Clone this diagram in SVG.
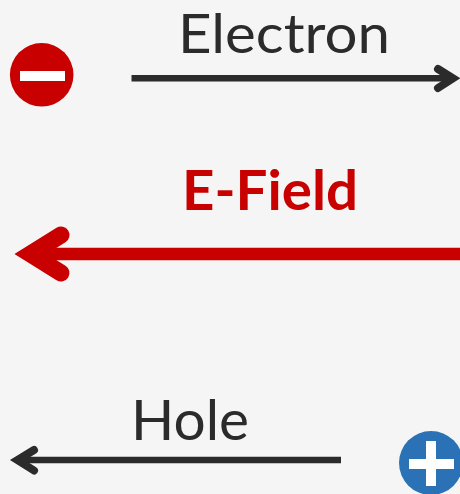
<svg xmlns="http://www.w3.org/2000/svg" width="460" height="494" viewBox="0 0 460 494">
<style>
.t{font-family:Lato,"Open Sans",sans-serif;font-size:56px;fill:#2b2b2b}
.b{font-family:Lato,"Open Sans",sans-serif;font-size:56px;font-weight:700;fill:#c80000}
.d{fill:none;stroke:#2b2b2b;stroke-width:6.500}
.h{fill:none;stroke:#2b2b2b;stroke-width:8;stroke-linecap:round;stroke-linejoin:miter;stroke-miterlimit:6}
.r{fill:none;stroke:#c80000;stroke-width:12.500}
.rh{fill:none;stroke:#c80000;stroke-width:17;stroke-linecap:round;stroke-linejoin:miter;stroke-miterlimit:6}
.w{fill:#fff}
</style>
<rect width="460" height="494" fill="#f5f5f5"/>
<g id="connectors">
<path class="d" d="M131.500 78.300H450"/>
<path class="h" d="M438 69L453 78.300L438 88"/>
<path class="r" d="M40 254H460"/>
<path class="rh" d="M61 235L30.500 254L61 273"/>
<path class="d" d="M341 460H20"/>
<path class="h" d="M34 450L17.500 460L34 470.500"/>
</g>
<g id="electron-label"><text class="t" style="font-size:54px" x="178" y="53" textLength="212" lengthAdjust="spacingAndGlyphs">Electron</text></g>
<g id="efield-label"><text class="b" x="182" y="209.500" textLength="176" lengthAdjust="spacingAndGlyphs">E-Field</text></g>
<g id="hole-label"><text class="t" x="131" y="439.500" textLength="118" lengthAdjust="spacingAndGlyphs">Hole</text></g>
<g id="electron"><circle cx="41.700" cy="74.800" r="31.800" fill="#c80000"/><rect class="w" x="20" y="71" width="45" height="10"/></g>
<g id="hole"><circle cx="431" cy="463" r="32" fill="#2a72b5"/><rect class="w" x="409" y="459" width="45" height="10"/><rect class="w" x="426" y="441" width="10" height="45"/></g>
</svg>
